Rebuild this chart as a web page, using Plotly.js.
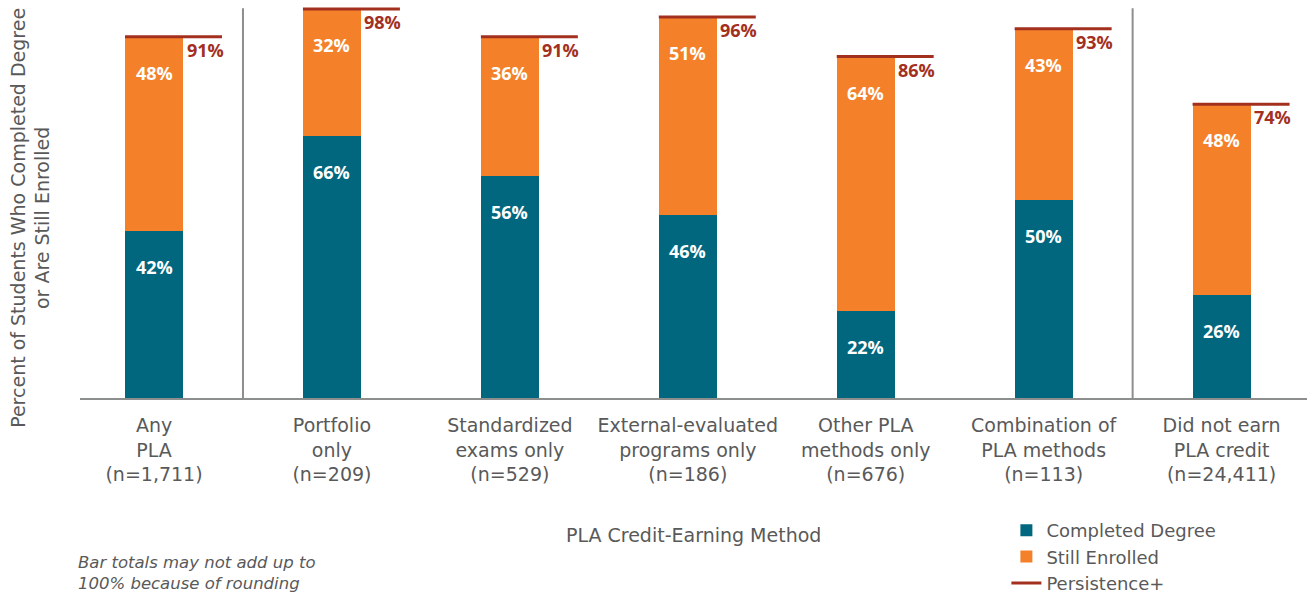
<!DOCTYPE html>
<html>
<head>
<meta charset="utf-8">
<script src="https://cdn.plot.ly/plotly-3.0.1.min.js"></script>
<style>
  html, body { margin: 0; padding: 0; background: #fff; }
  #chart { width: 1307px; height: 596px; }
</style>
</head>
<body>
<div id="chart"></div>
<script>
// ---- Data ----
const categories = [
  "Any<br>PLA<br>(n=1,711)",
  "Portfolio<br>only<br>(n=209)",
  "Standardized<br>exams only<br>(n=529)",
  "External-evaluated<br>programs only<br>(n=186)",
  "Other PLA<br>methods only<br>(n=676)",
  "Combination of<br>PLA methods<br>(n=113)",
  "Did not earn<br>PLA credit<br>(n=24,411)"
];
const completed = [42, 66, 56, 46, 22, 50, 26];
const completedLabels = ["42%", "66%", "56%", "46%", "22%", "50%", "26%"];
const enrolled = [49, 32, 35, 50, 64, 43, 48];
const enrolledLabels = ["48%", "32%", "36%", "51%", "64%", "43%", "48%"];
const persistence = [91, 98, 91, 96, 86, 93, 74];
const persistenceLabels = ["91%", "98%", "91%", "96%", "86%", "93%", "74%"];

// ---- Styles ----
const FONT = "DejaVu Sans, sans-serif";
const BFONT = "Open Sans, sans-serif";
const TEAL = "#00677F";
const ORANGE = "#F4812A";
const RED = "#A3301F";
const GRAY = "#8C8F8E";
const TXT = "#595959";
const BARW = 0.326;

const traces = [
  {
    type: "bar", name: "Completed Degree",
    x: categories, y: completed,
    marker: { color: TEAL }, width: BARW,
    hoverinfo: "skip"
  },
  {
    type: "bar", name: "Still Enrolled",
    x: categories, y: enrolled,
    marker: { color: ORANGE }, width: BARW,
    hoverinfo: "skip"
  },
  {
    type: "scatter", mode: "lines", name: "Persistence+",
    x: [null], y: [null],
    line: { color: RED, width: 3 },
    hoverinfo: "skip"
  }
];

const shapes = [];
const annotations = [];
categories.forEach((c, i) => {
  shapes.push({
    type: "line", xref: "x", yref: "y",
    x0: i - BARW / 2, x1: i + 0.382, y0: persistence[i], y1: persistence[i],
    line: { color: RED, width: 3 }
  });
  annotations.push({
    x: c, y: completed[i], xref: "x", yref: "y",
    text: "<b>" + completedLabels[i] + "</b>", showarrow: false,
    yanchor: "middle", yshift: -36,
    font: { family: BFONT, size: 18, color: "#ffffff" }
  });
  annotations.push({
    x: c, y: completed[i] + enrolled[i], xref: "x", yref: "y",
    text: "<b>" + enrolledLabels[i] + "</b>", showarrow: false,
    yanchor: "middle", yshift: -36,
    font: { family: BFONT, size: 18, color: "#ffffff" }
  });
  annotations.push({
    x: c, y: persistence[i], xref: "x", yref: "y",
    text: "<b>" + persistenceLabels[i] + "</b>", showarrow: false,
    yanchor: "middle", yshift: -13, xshift: 51,
    font: { family: BFONT, size: 18, color: RED }
  });
});

// separators between groups
[0.5, 5.5].forEach(v => {
  shapes.push({
    type: "line", xref: "x", yref: "paper",
    x0: v, x1: v, y0: 0, y1: 0.982,
    line: { color: GRAY, width: 2 }
  });
});

annotations.push({
  xref: "paper", yref: "paper", x: -0.041, y: 0.453,
  text: "Percent of Students Who Completed Degree<br>or Are Still Enrolled",
  textangle: -90, showarrow: false, xanchor: "center", yanchor: "middle",
  font: { family: FONT, size: 19, color: TXT }
});
annotations.push({
  xref: "paper", yref: "paper", x: 0.5, y: -0.345,
  text: "PLA Credit-Earning Method", showarrow: false,
  xanchor: "center", yanchor: "middle",
  font: { family: FONT, size: 19, color: TXT }
});
annotations.push({
  xref: "paper", yref: "paper", x: -0.003, y: -0.44,
  text: "<i>Bar totals may not add up to<br>100% because of rounding</i>",
  showarrow: false, xanchor: "left", yanchor: "middle", align: "left",
  font: { family: FONT, size: 16.5, color: TXT }
});

const layout = {
  width: 1307, height: 596,
  margin: { l: 80, r: 0, t: 1, b: 198, autoexpand: false },
  paper_bgcolor: "#ffffff", plot_bgcolor: "#ffffff",
  barmode: "stack",
  showlegend: true,
  legend: {
    xref: "container", yref: "container",
    x: 0.770, y: 0.141, xanchor: "left", yanchor: "top",
    traceorder: "normal", orientation: "v",
    font: { family: FONT, size: 18, color: TXT },
    bgcolor: "rgba(0,0,0,0)", itemwidth: 30, tracegroupgap: 0
  },
  xaxis: {
    type: "category", range: [-0.416, 6.48],
    showline: true, linecolor: GRAY, linewidth: 2,
    ticks: "", showgrid: false, zeroline: false,
    tickfont: { family: FONT, size: 19, color: TXT },
    ticklabelstandoff: 9, automargin: false,
    fixedrange: true
  },
  yaxis: {
    range: [0, 100], showline: false, showgrid: false, zeroline: false,
    showticklabels: false, ticks: "", fixedrange: true, automargin: false
  },
  shapes: shapes,
  annotations: annotations,
  font: { family: FONT }
};

Plotly.newPlot("chart", traces, layout, { displayModeBar: false, staticPlot: true });
</script>
</body>
</html>
